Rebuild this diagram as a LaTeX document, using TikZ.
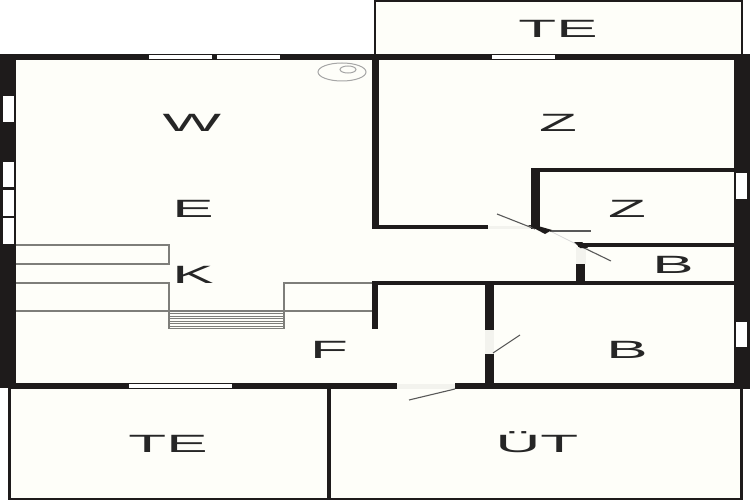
\documentclass[tikz,border=0pt]{standalone}
\usepackage{fontspec}
\setmainfont{Liberation Sans}
\definecolor{wallc}{HTML}{1E1B1B}
\definecolor{floorc}{HTML}{FEFEF9}
\definecolor{thinc}{HTML}{7E7E7A}
\definecolor{gapc}{HTML}{F3F3EE}
\tikzset{
  x=1pt,y=-1pt,
  wall/.style={fill=wallc,draw=none},
  win/.style={fill=white,draw=none},
  gap/.style={fill=gapc,draw=none},
  fine/.style={draw=thinc,line width=1.3pt},
  swing/.style={draw=black!65,line width=1.1pt},
  lbl/.style={font=\fontsize{25}{25}\selectfont,text=black!85,xscale=2.48,transform shape,anchor=base,inner sep=0pt},
}
\begin{document}
\begin{tikzpicture}
\useasboundingbox (0,0) rectangle (750,500);
\fill[white] (0,0) rectangle (750,500);
% floors
\fill[floorc] (375,0) rectangle (742,56);
\fill[floorc] (0,56) rectangle (750,387);
\fill[floorc] (9,387) rectangle (742,499);
% terrace outlines
\draw[wallc,line width=2pt] (375,55) -- (375,1) -- (742,1) -- (742,55);
\draw[wallc,line width=3pt] (9,388) -- (9,498);
\draw[wallc,line width=3.5pt] (329,388) -- (329,498);
\draw[wallc,line width=3pt] (741.5,388) -- (741.5,498);
\draw[wallc,line width=2pt] (8,498.5) -- (743,498.5);
% stairs
\draw[fine] (16,245) -- (169,245) -- (169,264) -- (16,264);
\draw[fine] (16,283) -- (169,283) -- (169,329);
\draw[fine] (372,283) -- (284,283) -- (284,329);
\draw[fine] (16,311) -- (372,311);
\foreach \yy in {313.5,316,318.5,321,323.5,326,328.5}
  \draw[thinc,line width=1pt] (169,\yy) -- (284,\yy);
% outer walls
\fill[wall] (0,54) rectangle (750,60);
\fill[wall] (0,54) rectangle (16,388);
\fill[wall] (734,54) rectangle (750,389);
\fill[wall] (9,383) rectangle (397,389);
\fill[wall] (455,383) rectangle (750,389);
% inner walls
\fill[wall] (372,60) rectangle (379,228);
\fill[wall] (372,225) rectangle (488,229);
\fill[wall] (531,168) rectangle (540,229);
\fill[wall] (531,168) rectangle (734,172);
\fill[wall] (578,243) rectangle (734,247);
\fill[wall] (576,264) rectangle (585,283);
\fill[wall] (372,281) rectangle (734,285);
\fill[wall] (372,281) rectangle (378,329);
\fill[wall] (485,281) rectangle (494,330);
\fill[wall] (485,354) rectangle (494,385);
% windows
\fill[win] (149,55.5) rectangle (212,59);
\fill[win] (217,55.5) rectangle (280,59);
\fill[win] (492,55.5) rectangle (555,59);
\fill[win] (129,384) rectangle (232,388);
\fill[win] (3,96) rectangle (14,122);
\fill[win] (3,162) rectangle (14,187);
\fill[win] (3,190) rectangle (14,216);
\fill[win] (3,218) rectangle (14,244);
\fill[win] (736,173) rectangle (747,199);
\fill[win] (736,322) rectangle (747,347);
% door gaps
\fill[gap] (397,384) rectangle (455,389);
\fill[gap] (485,330) rectangle (494,354);
\fill[gap] (576,247) rectangle (586,264);
\fill[gap] (488,225.5) rectangle (531,228.5);
\draw[black!15,line width=.7pt] (550,231) -- (578,245);
% door swings
\draw[swing] (455,389) -- (409,400);
\draw[swing] (493,353) -- (520,335);
\draw[swing] (497,214) -- (535,229);
\draw[swing] (550,231) -- (591,231);
\draw[swing] (578,245) -- (611,261);
\fill[wall] (528,225) -- (538,226) -- (552,230) -- (545,234) -- cycle;
\fill[wall] (574,242) -- (582,242) -- (588,248) -- (580,248) -- cycle;
% boiler
\draw[black!35,line width=1pt] (342,72) ellipse [x radius=24,y radius=9];
\draw[black!35,line width=1pt] (348,69.5) ellipse [x radius=8,y radius=3.5];
% labels
\node[lbl] (w) at (192,132) {W};
\node[lbl] (e) at (193,217) {E};
\node[lbl] (k) at (193,283) {K};
\node[lbl] (f) at (329,358) {F};
\node[lbl] (te1) at (558,38) {TE};
\node[lbl] (z1) at (558,132) {Z};
\node[lbl] (z2) at (627,217) {Z};
\node[lbl] (b1) at (673,273) {B};
\node[lbl] (b2) at (627,358) {B};
\node[lbl] (te2) at (168,452) {TE};
\node[lbl] (ut) at (537,452) {ÜT};
\end{tikzpicture}
\end{document}
